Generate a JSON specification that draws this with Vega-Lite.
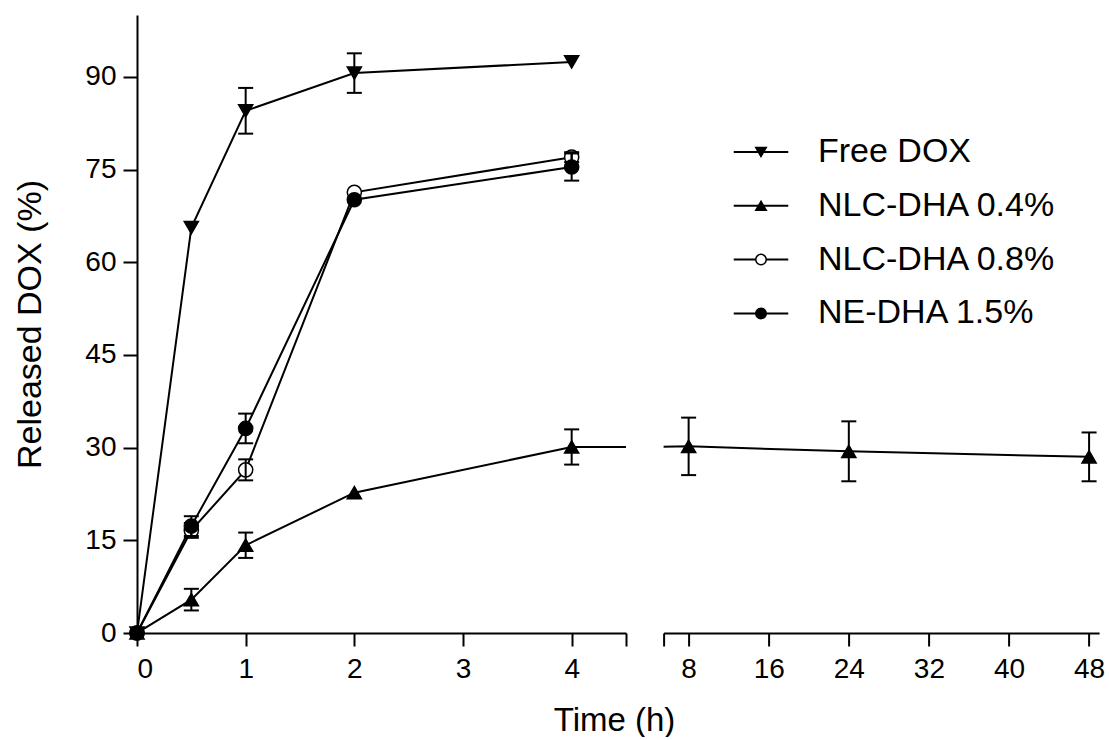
{
  "$schema": "https://vega.github.io/schema/vega-lite/v6.json",
  "padding": {"left": 13, "top": 15, "right": 2, "bottom": 0},
  "bounds": "flush",
  "spacing": 37.6,
  "config": {
    "view": {"stroke": null},
    "font": "Liberation Sans",
    "axis": {
      "domainColor": "black", "domainWidth": 2, "tickColor": "black", "tickWidth": 2,
      "labelColor": "black", "titleColor": "black", "labelFont": "Liberation Sans",
      "titleFont": "Liberation Sans", "labelFontSize": 28, "titleFontWeight": "normal", "grid": false
    }
  },
  "data": {
    "values": [
      {"series": "Free DOX", "t": 0, "mean": 0, "sd": null},
      {"series": "Free DOX", "t": 0.5, "mean": 65.6, "sd": null},
      {"series": "Free DOX", "t": 1, "mean": 84.5, "sd": 3.7},
      {"series": "Free DOX", "t": 2, "mean": 90.6, "sd": 3.2},
      {"series": "Free DOX", "t": 4, "mean": 92.4, "sd": null},
      {"series": "NLC-DHA 0.4%", "t": 0, "mean": 0, "sd": null},
      {"series": "NLC-DHA 0.4%", "t": 0.5, "mean": 5.4, "sd": 1.75},
      {"series": "NLC-DHA 0.4%", "t": 1, "mean": 14.2, "sd": 2.05},
      {"series": "NLC-DHA 0.4%", "t": 2, "mean": 22.7, "sd": null},
      {"series": "NLC-DHA 0.4%", "t": 4, "mean": 30.1, "sd": 2.85},
      {"series": "NLC-DHA 0.4%", "t": 8, "mean": 30.2, "sd": 4.65},
      {"series": "NLC-DHA 0.4%", "t": 24, "mean": 29.4, "sd": 4.85},
      {"series": "NLC-DHA 0.4%", "t": 48, "mean": 28.5, "sd": 3.95},
      {"series": "NLC-DHA 0.8%", "t": 0, "mean": 0, "sd": null},
      {"series": "NLC-DHA 0.8%", "t": 0.5, "mean": 16.6, "sd": 1.2},
      {"series": "NLC-DHA 0.8%", "t": 1, "mean": 26.4, "sd": 1.7},
      {"series": "NLC-DHA 0.8%", "t": 2, "mean": 71.3, "sd": null},
      {"series": "NLC-DHA 0.8%", "t": 4, "mean": 77.0, "sd": 0.8},
      {"series": "NE-DHA 1.5%", "t": 0, "mean": 0, "sd": null},
      {"series": "NE-DHA 1.5%", "t": 0.5, "mean": 17.3, "sd": 1.6},
      {"series": "NE-DHA 1.5%", "t": 1, "mean": 33.1, "sd": 2.4},
      {"series": "NE-DHA 1.5%", "t": 2, "mean": 70.1, "sd": null},
      {"series": "NE-DHA 1.5%", "t": 4, "mean": 75.4, "sd": 2.2}
    ]
  },
  "resolve": {
    "scale": {"x": "independent", "y": "independent", "shape": "independent", "fill": "independent", "color": "independent"},
    "legend": {"shape": "independent", "fill": "independent", "color": "independent"}
  },
  "hconcat": [
    {
      "width": 489,
      "height": 618,
      "encoding": {
        "x": {
          "field": "t", "type": "quantitative",
          "scale": {"domain": [0, 4.5], "nice": false, "zero": false},
          "axis": {
            "values": [0, 1, 2, 3, 4, 4.5],
            "labelExpr": "datum.value == 4.5 ? '' : datum.label",
            "title": "Time (h)", "titleFontSize": 33, "titleX": 477, "titleY": 97,
            "titleAlign": "center", "titleBaseline": "alphabetic",
            "tickSize": 13, "labelPadding": 9
          }
        },
        "y": {
          "field": "mean", "type": "quantitative",
          "scale": {"domain": [0, 100], "nice": false},
          "axis": {
            "values": [0, 15, 30, 45, 60, 75, 90],
            "title": "Released DOX (%)", "titleFontSize": 34, "titleAngle": -90,
            "titleX": -97, "titleY": 309, "titleAlign": "center", "titleBaseline": "alphabetic",
            "tickSize": 14, "labelPadding": 7
          }
        }
      },
      "layer": [
        {
          "mark": {"type": "line", "clip": true, "strokeWidth": 2},
          "encoding": {
            "color": {
              "field": "series", "type": "nominal",
              "scale": {"domain": ["Free DOX", "NLC-DHA 0.4%", "NLC-DHA 0.8%", "NE-DHA 1.5%", "_"], "range": ["black", "black", "black", "black", "black"]},
              "legend": {
                "values": ["Free DOX", "NLC-DHA 0.4%", "NLC-DHA 0.8%", "NE-DHA 1.5%"],
                "orient": "none", "legendX": 607, "legendY": 120, "title": null,
                "labelFont": "Liberation Sans", "labelFontSize": 34, "labelColor": "black", "labelOpacity": 0,
                "labelLimit": 0, "labelOffset": 40, "rowPadding": 19.8, "symbolSize": 110,
                "symbolType": "M-5.2,0H5.2", "symbolStrokeWidth": 2, "symbolStrokeColor": "black"
              }
            }
          }
        },
        {
          "transform": [{"filter": "datum.t <= 4.5"}],
          "mark": {"type": "point", "filled": true, "stroke": "black", "strokeWidth": 1.5, "size": 200, "opacity": 1},
          "encoding": {
            "shape": {
              "field": "series", "type": "nominal",
              "scale": {"domain": ["Free DOX", "NLC-DHA 0.4%", "NLC-DHA 0.8%", "NE-DHA 1.5%"], "range": ["triangle-down", "triangle-up", "circle", "circle"]},
              "legend": {
                "orient": "none", "legendX": 607, "legendY": 120, "title": null,
                "labelFont": "Liberation Sans", "labelFontSize": 34, "labelColor": "black",
                "labelLimit": 0, "labelOffset": 40, "rowPadding": 19.8, "symbolSize": 110,
                "symbolStrokeWidth": 1.5, "symbolOpacity": 1
              }
            },
            "fill": {
              "field": "series", "type": "nominal",
              "scale": {"domain": ["Free DOX", "NLC-DHA 0.4%", "NLC-DHA 0.8%", "NE-DHA 1.5%"], "range": ["black", "black", "white", "black"]},
              "legend": null
            }
          }
        },
        {
          "transform": [{"filter": "datum.t <= 4.5 && datum.sd > 0"}],
          "mark": {
            "type": "errorbar", "color": "black", "thickness": 2,
            "ticks": {"size": 15, "thickness": 2, "color": "black", "opacity": 1},
            "rule": {"strokeWidth": 2, "color": "black", "opacity": 1}
          },
          "encoding": {"yError": {"field": "sd"}}
        }
      ]
    },
    {
      "width": 435.5,
      "height": 618,
      "encoding": {
        "x": {
          "field": "t", "type": "quantitative",
          "scale": {"domain": [5.5, 49], "nice": false, "zero": false},
          "axis": {
            "values": [5.5, 8, 16, 24, 32, 40, 48],
            "labelExpr": "datum.value == 5.5 ? '' : datum.label",
            "title": null, "tickSize": 13, "labelPadding": 9
          }
        },
        "y": {
          "field": "mean", "type": "quantitative",
          "scale": {"domain": [0, 100], "nice": false},
          "axis": null
        }
      },
      "layer": [
        {
          "mark": {"type": "line", "clip": true, "color": "black", "strokeWidth": 2},
          "encoding": {"detail": {"field": "series"}}
        },
        {
          "transform": [{"filter": "datum.t >= 5.5"}],
          "mark": {"type": "point", "filled": true, "stroke": "black", "strokeWidth": 1.5, "size": 200, "opacity": 1},
          "encoding": {
            "shape": {
              "field": "series", "type": "nominal",
              "scale": {"domain": ["Free DOX", "NLC-DHA 0.4%", "NLC-DHA 0.8%", "NE-DHA 1.5%"], "range": ["triangle-down", "triangle-up", "circle", "circle"]},
              "legend": null
            },
            "fill": {
              "field": "series", "type": "nominal",
              "scale": {"domain": ["Free DOX", "NLC-DHA 0.4%", "NLC-DHA 0.8%", "NE-DHA 1.5%"], "range": ["black", "black", "white", "black"]},
              "legend": null
            }
          }
        },
        {
          "transform": [{"filter": "datum.t >= 5.5 && datum.sd > 0"}],
          "mark": {
            "type": "errorbar", "color": "black", "thickness": 2,
            "ticks": {"size": 15, "thickness": 2, "color": "black", "opacity": 1},
            "rule": {"strokeWidth": 2, "color": "black", "opacity": 1}
          },
          "encoding": {"yError": {"field": "sd"}}
        }
      ]
    }
  ]
}
